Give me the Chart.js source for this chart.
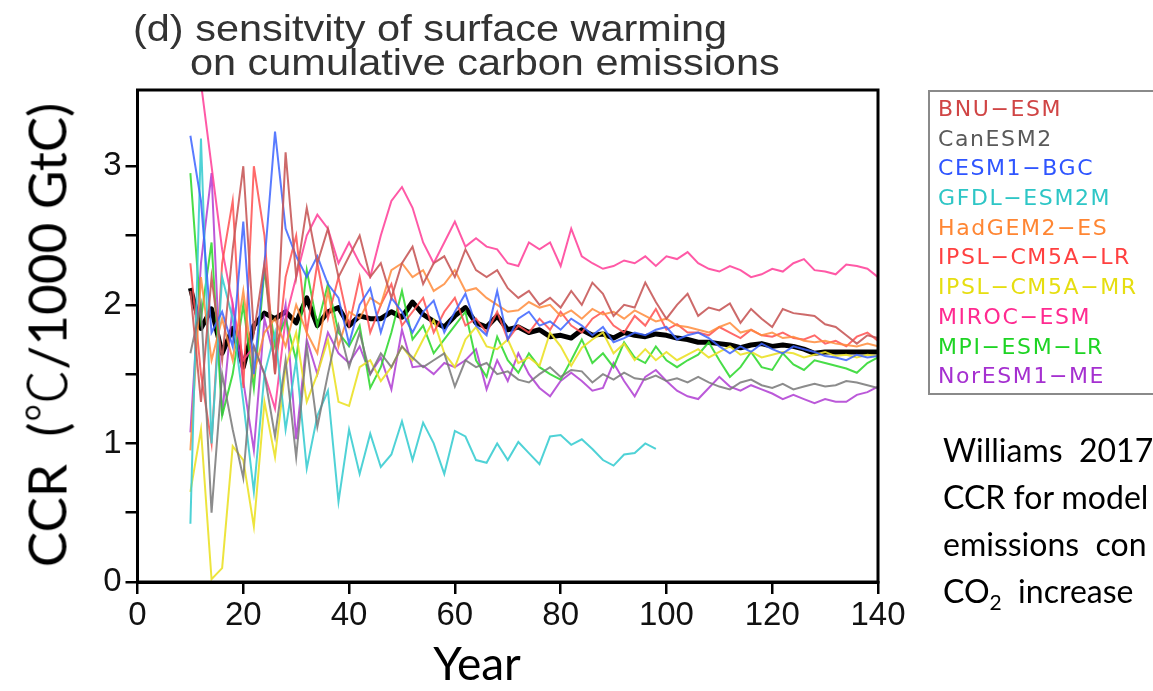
<!DOCTYPE html>
<html>
<head>
<meta charset="utf-8">
<script src="https://cdn.jsdelivr.net/npm/chart.js@4.4.1/dist/chart.umd.min.js"></script>
<style>
    html, body { margin: 0; padding: 0; background: #fff; overflow: hidden; }
    #wrap { position: relative; width: 1153px; height: 691px; overflow: hidden; }
    #chart { position: absolute; left: 0; top: 0; }
    .ttl { position: absolute; font-family: "Liberation Sans", Arial, sans-serif; font-size: 37px; color: #333;
           white-space: nowrap; transform-origin: left top; line-height: 1; }
    .calibri { position: absolute; font-family: Lato, "Open Sans", sans-serif; color: #000; white-space: nowrap; line-height: 1; }
    .cjk { font-family: "Noto Sans CJK JP", sans-serif; font-weight: 300; }
    #ytitle { font-size: 53px; transform: translate(-50%, -50%) rotate(-90deg); left: 45px; top: 335px; }
    #xtitle { font-size: 46px; left: 477px; top: 663px; transform: translate(-50%, -50%); }
    #legend { position: absolute; left: 928px; top: 90px; width: 240px; height: 305px; border: 2px solid #8a8a8a; box-sizing: border-box; padding-top: 2px; }
    #legend div { font-family: "DejaVu Sans", sans-serif; font-size: 22px; letter-spacing: 1.6px; height: 29.7px; line-height: 29.7px; padding-left: 8px; }
    #note { left: 943px; top: 434px; font-size: 32px; }
    #note div { height: 47px; }
</style>
</head>
<body>
<div id="wrap">
    <canvas id="chart" width="1153" height="691"></canvas>
    <div class="ttl" style="left:133px;top:10px;transform:scaleX(1.12)">(d) sensitvity of surface warming</div>
    <div class="ttl" style="left:190px;top:44px;transform:scaleX(1.12)">on cumulative carbon emissions</div>
    <div class="calibri" id="ytitle">CCR&nbsp;&nbsp;(<span class="cjk">℃</span>/1000 GtC)</div>
    <div class="calibri" id="xtitle">Year</div>
    <div id="legend"></div>
    <div class="calibri" id="note">
        <div>Williams&nbsp;&nbsp;2017</div>
        <div>CCR for model</div>
        <div>emissions&nbsp;&nbsp;con</div>
        <div>CO<sub style="font-size:21px">2</sub>&nbsp;&nbsp;increase</div>
    </div>
</div>
<script>
// --- data (years 10..140, every 2 years) ---
const years = [10,12,14,16,18,20,22,24,26,28,30,32,34,36,38,40,42,44,46,48,50,52,54,56,58,60,62,64,66,68,70,
    72,74,76,78,80,82,84,86,88,90,92,94,96,98,100,102,104,106,108,110,112,114,116,118,120,122,124,126,128,130,
    132,134,136,138,140];

const models = ['BNU\u2212ESM', 'CanESM2', 'CESM1\u2212BGC', 'GFDL\u2212ESM2M', 'HadGEM2\u2212ES',
    'IPSL\u2212CM5A\u2212LR', 'IPSL\u2212CM5A\u2212MR', 'MIROC\u2212ESM', 'MPI\u2212ESM\u2212LR', 'NorESM1\u2212ME'];
const textColors = ['#d04545', '#5a5a5a', '#2f55ff', '#2ec6c6', '#ff8633', '#ff4040', '#e6de10', '#ff2a90', '#1ed424', '#a530d0'];
const lineColors = ['rgba(200,90,90,0.9)', 'rgba(120,120,120,0.85)', 'rgba(60,100,255,0.85)', 'rgba(60,205,210,0.9)',
    'rgba(255,140,60,0.85)', 'rgba(255,80,80,0.85)', 'rgba(235,225,40,0.9)', 'rgba(255,60,150,0.85)',
    'rgba(40,215,40,0.85)', 'rgba(175,60,210,0.85)'];

const bnu = [2.1,1.3,2.2,1.6,2.4,3.0,1.8,2.3,1.5,3.1,2.2,2.7,2.3,2.55,2.2,2.35,2.5,2.2,2.3,2.05,2.3,2.42,2.15,2.3,2.35,2.2,
    2.4,2.25,2.2,2.25,2.12,2.05,2.1,2.0,2.05,1.98,2.1,2.0,2.16,2.08,1.92,2.0,1.98,2.16,2.02,1.9,2.0,2.08,1.92,1.98,
    1.96,2.01,1.87,1.97,1.9,1.84,1.97,1.94,1.93,1.92,1.86,1.84,1.78,1.72,1.78,1.76];
const canesm = [1.65,2.0,0.5,1.5,1.1,0.75,1.7,1.5,1.05,1.6,0.9,1.7,1.12,1.5,1.85,1.55,1.8,1.5,1.65,1.55,1.7,1.62,1.55,1.6,
    1.65,1.41,1.6,1.55,1.58,1.5,1.52,1.46,1.44,1.5,1.55,1.48,1.53,1.52,1.44,1.5,1.46,1.51,1.47,1.46,1.49,1.45,1.47,
    1.44,1.48,1.44,1.41,1.39,1.44,1.46,1.42,1.4,1.43,1.39,1.41,1.43,1.41,1.42,1.45,1.44,1.42,1.4];
const cesm = [3.22,2.75,1.8,1.95,1.7,2.6,1.5,2.3,3.25,2.55,2.35,2.2,2.35,2.15,2.05,1.72,2.0,2.12,1.8,2.05,1.95,1.8,1.95,
    2.03,1.8,1.95,2.08,1.85,1.78,2.1,1.75,1.9,1.95,1.85,1.88,1.82,1.9,1.85,1.78,1.84,1.73,1.76,1.8,1.78,1.82,1.84,1.75,
    1.78,1.8,1.76,1.7,1.65,1.7,1.66,1.72,1.68,1.65,1.7,1.68,1.66,1.63,1.62,1.6,1.64,1.62,1.63];
const gfdl = [0.42,3.2,1.0,2.2,1.9,1.3,0.65,1.5,1.8,1.1,1.6,0.82,1.2,1.38,0.58,1.1,0.78,1.07,0.83,0.92,1.16,0.88,1.15,
    1.0,0.78,1.09,1.05,0.88,0.86,1.0,0.88,1.01,0.93,0.85,1.05,1.06,0.99,1.03,0.96,0.88,0.84,0.92,0.93,1.0,0.96,
    null,null,null,null,null,null,null,null,null,null,null,null,null,null,null,null,null,null,null,null,null];
const hadgem = [0.95,2.2,1.6,1.9,1.6,2.1,1.5,1.8,1.9,1.7,2.0,1.8,1.65,2.1,1.7,1.95,1.9,2.05,2.0,2.25,2.3,2.2,2.25,2.1,
    2.15,2.25,2.1,2.12,2.05,2.0,1.95,1.96,2.02,1.98,2.0,1.92,1.96,1.9,1.97,1.93,1.95,1.9,1.96,1.92,1.88,1.9,1.85,1.84,
    1.82,1.8,1.84,1.87,1.8,1.82,1.78,1.8,1.76,1.77,1.74,1.73,1.74,1.72,1.71,1.7,1.72,1.7];
const ipslLR = [2.3,1.5,1.0,2.3,2.75,1.4,3.0,2.5,1.5,2.2,2.5,1.8,2.3,1.9,2.2,1.85,2.2,1.8,2.0,2.15,1.85,1.95,2.05,1.8,
    1.95,2.05,1.85,1.9,1.8,1.95,1.75,1.85,1.8,1.9,1.82,1.95,1.85,1.8,1.9,1.95,1.85,1.8,1.92,1.85,1.97,1.82,1.86,1.8,
    1.8,1.78,1.84,1.8,1.76,1.82,1.78,1.77,1.8,1.76,1.75,1.78,1.72,1.74,1.7,1.77,1.8,1.74];
const ipslMR = [0.65,1.1,0.02,0.1,0.98,0.88,0.4,1.3,0.9,1.55,1.8,1.3,1.5,1.75,1.3,1.27,1.55,1.6,1.45,1.55,1.7,1.6,1.75,
    1.89,1.65,1.55,1.75,1.84,1.7,1.68,1.75,1.58,1.62,1.56,1.8,1.7,1.56,1.69,1.75,1.8,1.65,1.72,1.6,1.68,1.6,1.66,1.6,
    1.64,1.68,1.62,1.66,1.7,1.64,1.66,1.62,1.64,1.66,1.65,1.62,1.64,1.66,1.63,1.64,1.62,1.64,1.63];
const miroc = [4.2,3.6,3.0,2.4,2.0,1.6,1.7,1.5,1.25,1.9,2.2,2.5,2.65,2.55,2.3,2.45,2.3,2.2,2.5,2.75,2.85,2.7,2.45,2.3,
    2.45,2.6,2.42,2.48,2.42,2.4,2.3,2.28,2.45,2.4,2.45,2.28,2.55,2.35,2.3,2.26,2.28,2.32,2.3,2.35,2.28,2.35,2.33,2.38,
    2.3,2.26,2.24,2.28,2.25,2.2,2.22,2.26,2.24,2.3,2.33,2.25,2.24,2.22,2.29,2.28,2.26,2.2];
const mpi = [2.95,1.9,2.45,1.2,1.5,2.0,1.4,2.25,1.7,1.9,1.6,2.25,1.85,2.15,1.8,1.7,1.85,1.4,1.55,1.8,2.1,1.75,1.85,1.65,
    1.75,1.85,1.95,1.6,1.48,1.77,1.6,1.51,1.65,1.55,1.5,1.46,1.6,1.75,1.58,1.65,1.55,1.73,1.62,1.58,1.7,1.6,1.55,1.6,
    1.64,1.73,1.6,1.48,1.55,1.66,1.55,1.53,1.65,1.57,1.53,1.6,1.58,1.56,1.54,1.51,1.58,1.62];
const noresm = [1.08,2.3,2.95,1.2,2.0,1.45,0.95,1.9,1.6,2.0,1.03,1.75,1.5,1.8,1.65,1.58,1.7,1.5,1.62,1.39,1.82,1.55,1.56,
    1.5,1.58,1.55,1.6,1.68,1.39,1.6,1.45,1.65,1.5,1.4,1.34,1.45,1.51,1.45,1.38,1.4,1.58,1.45,1.34,1.48,1.53,1.45,1.38,
    1.34,1.32,1.4,1.48,1.41,1.38,1.42,1.39,1.36,1.32,1.35,1.32,1.29,1.32,1.3,1.3,1.35,1.37,1.41];
const ensMean = [2.12,1.83,1.97,1.65,1.83,1.55,1.85,1.94,1.9,1.95,1.87,2.05,1.85,1.95,1.98,1.85,1.92,1.9,1.9,1.95,1.91,
    2.02,1.93,1.88,1.84,1.92,1.98,1.87,1.84,1.92,1.82,1.84,1.8,1.82,1.77,1.78,1.76,1.82,1.78,1.79,1.76,1.8,1.78,1.77,
    1.79,1.78,1.76,1.75,1.73,1.73,1.72,1.71,1.69,1.71,1.72,1.7,1.71,1.7,1.68,1.65,1.66,1.66,1.66,1.66,1.66,1.66];

const modelSeries = [bnu, canesm, cesm, gfdl, hadgem, ipslLR, ipslMR, miroc, mpi, noresm];

// --- legend (html, coloured names) ---
const legendEl = document.getElementById('legend');
models.forEach((name, i) => {
    const row = document.createElement('div');
    row.textContent = name;
    row.style.color = textColors[i];
    legendEl.appendChild(row);
});

const toPoints = vals => years.map((yr, i) => ({ x: yr, y: vals[i] }));

const datasets = modelSeries.map((vals, i) => ({
    label: models[i],
    data: toPoints(vals),
    borderColor: lineColors[i],
    borderWidth: 2,
    pointRadius: 0,
    tension: 0,
    spanGaps: false
}));
datasets.push({
    label: 'multi-model mean',
    data: toPoints(ensMean),
    borderColor: '#000',
    borderWidth: 5,
    pointRadius: 0,
    tension: 0,
    borderJoinStyle: 'round'
});

// box round the plot area
const frame = {
    id: 'frame',
    afterDatasetsDraw(chart) {
        const { ctx, chartArea: a } = chart;
        ctx.save();
        ctx.strokeStyle = '#000';
        ctx.lineWidth = 3;
        ctx.strokeRect(a.left, a.top, a.right - a.left, a.bottom - a.top);
        ctx.restore();
    }
};

const tickFont = { family: "'Liberation Sans', Arial, sans-serif", size: 33 };

new Chart(document.getElementById('chart'), {
    type: 'line',
    data: { datasets },
    plugins: [frame],
    options: {
        responsive: false,
        animation: false,
        devicePixelRatio: 1,
        layout: { padding: { left: 0, top: 90, right: 275, bottom: 0 } },
        plugins: { legend: { display: false }, tooltip: { enabled: false } },
        scales: {
            x: {
                type: 'linear',
                min: 0,
                max: 140,
                ticks: { stepSize: 20, color: '#111', font: tickFont, padding: 2, maxRotation: 0 },
                grid: { drawOnChartArea: false, drawTicks: true, tickLength: 12, color: '#000', lineWidth: 2.5 },
                border: { display: true, color: '#000', width: 3 },
                afterFit: s => { s.height = 109; }
            },
            y: {
                min: 0,
                max: 3.55,
                ticks: {
                    stepSize: 0.5,
                    color: '#111',
                    font: tickFont,
                    padding: 4,
                    callback: v => (Math.abs(v - Math.round(v)) < 1e-6 ? String(Math.round(v)) : '')
                },
                afterBuildTicks: s => { s.ticks = s.ticks.filter(t => t.value <= 3.5 + 1e-6); },
                grid: { drawOnChartArea: false, drawTicks: true, tickLength: 12, color: '#000', lineWidth: 2.5 },
                border: { display: true, color: '#000', width: 3 },
                afterFit: s => { s.width = 137.5; }
            }
        }
    }
});
</script>
</body>
</html>
